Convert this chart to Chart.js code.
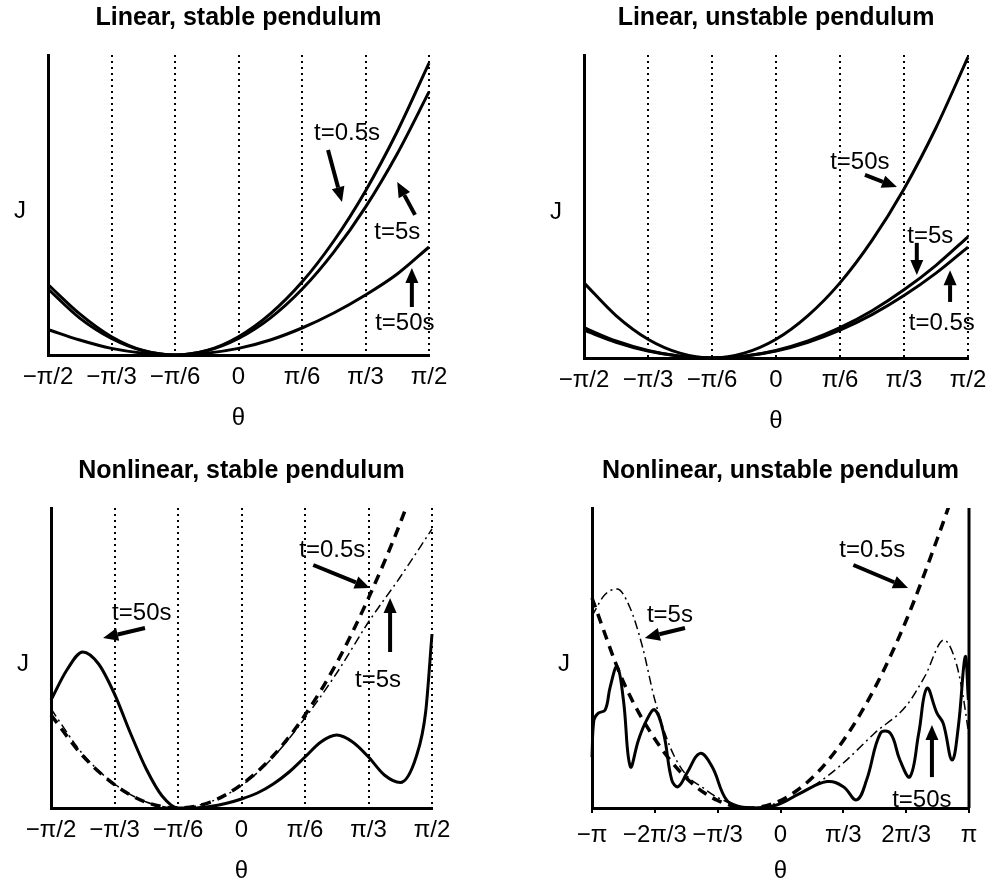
<!DOCTYPE html>
<html><head><meta charset="utf-8">
<script src="https://cdn.jsdelivr.net/npm/chart.js@4/dist/chart.umd.min.js"></script>
<style>
body{margin:0;background:#fff;width:1003px;height:883px;position:relative;overflow:hidden}
.p{position:absolute}
</style></head><body>
<div class="p" style="left:0;top:0;width:470px;height:440px"><canvas id="c1"></canvas></div>
<div class="p" style="left:530px;top:0;width:473px;height:440px"><canvas id="c2"></canvas></div>
<div class="p" style="left:0;top:440px;width:470px;height:443px"><canvas id="c3"></canvas></div>
<div class="p" style="left:530px;top:440px;width:473px;height:443px"><canvas id="c4"></canvas></div>
<script>
// ---- tick labels ----
const ticksHalfPi = ["−π/2","−π/3","−π/6","0","π/6","π/3","π/2"];
const ticksPi = ["−π","−2π/3","−π/3","0","π/3","2π/3","π"];
const titles = ["Linear, stable pendulum","Linear, unstable pendulum","Nonlinear, stable pendulum","Nonlinear, unstable pendulum"];
// ---- x grids (tick units) ----
const xStd = [-3,-2.5,-2,-1.5,-1,-0.5,0,0.5,1,1.5,2,2.5,3];
// Linear stable
const ls_t05 = [0.235,0.137,0.061,0.015,0,0.015,0.061,0.137,0.243,0.380,0.547,0.745,0.973];
const ls_t5  = [0.220,0.123,0.055,0.014,0,0.014,0.055,0.123,0.219,0.343,0.493,0.671,0.877];
const ls_t50 = [0.085,0.050,0.022,0.006,0,0.006,0.022,0.050,0.090,0.140,0.200,0.270,0.360];
// Linear unstable
const lu_t50 = [0.248,0.140,0.062,0.016,0,0.016,0.062,0.140,0.248,0.388,0.558,0.760,0.993];
const lu_t5  = [0.100,0.056,0.025,0.006,0,0.006,0.025,0.056,0.100,0.156,0.225,0.306,0.400];
const lu_t05 = [0.092,0.052,0.023,0.006,0,0.006,0.023,0.052,0.092,0.143,0.206,0.280,0.366];
// Nonlinear stable
const xNs50 = [-3,-2.75,-2.5,-2.25,-2,-1.75,-1.5,-1.25,-1,-0.75,-0.5,-0.25,0,0.25,0.5,0.75,1,1.25,1.5,1.75,2,2.25,2.5,2.75,2.9,3];
const ns_t50 = [0.36,0.46,0.52,0.48,0.38,0.25,0.13,0.04,0.0,0.0,0.005,0.015,0.03,0.05,0.08,0.12,0.17,0.22,0.243,0.22,0.17,0.11,0.085,0.17,0.32,0.58];
const ns_t05 = [0.31,0.174,0.078,0.019,0,0.019,0.078,0.174,0.31,0.484,0.70,0.95,1.24];
const ns_t5  = [0.33,0.18,0.08,0.02,0,0.02,0.075,0.17,0.30,0.45,0.62,0.77,0.93];
// Nonlinear unstable
const nu_t05 = [0.70,0.42,0.23,0.10,0.025,0,0.025,0.10,0.225,0.40,0.625,0.90,1.2];
const xNu5 = [-3,-2.8,-2.6,-2.4,-2.2,-2,-1.75,-1.5,-1.25,-1,-0.5,0,0.5,1,1.5,2,2.3,2.6,2.8,2.9,3];
const nu_t5 = [0.64,0.71,0.73,0.67,0.54,0.36,0.20,0.11,0.07,0.035,0,0.02,0.07,0.15,0.25,0.34,0.44,0.56,0.48,0.38,0.24];
const xNu50 = [-3,-2.97,-2.9,-2.79,-2.71,-2.6,-2.5,-2.39,-2.26,-2.13,-2.0,-1.86,-1.73,-1.63,-1.49,-1.28,-1.09,-0.86,-0.64,-0.43,-0.06,0.31,0.74,1.0,1.21,1.37,1.59,1.75,1.9,2.06,2.2,2.33,2.49,2.59,2.73,2.83,2.94,2.99];
const nu_t50 = [0.17,0.293,0.316,0.327,0.404,0.471,0.36,0.138,0.227,0.293,0.327,0.249,0.093,0.071,0.116,0.182,0.138,0.027,0.004,0,0.01,0.049,0.088,0.071,0.027,0.093,0.249,0.249,0.16,0.104,0.249,0.399,0.316,0.282,0.16,0.271,0.504,0.36];

// annotations in data units: [text, tx, ty, ax0, ay0, ax1, ay1]
const ann1 = [["t=0.5s",1.71,0.74,1.41,0.683,1.63,0.51],["t=5s",2.5,0.41,2.78,0.467,2.5,0.577],["t=50s",2.62,0.107,2.73,0.16,2.73,0.29]];
const ann2 = [["t=50s",1.31,0.647,1.39,0.604,1.89,0.564],["t=5s",2.41,0.40,2.2,0.38,2.2,0.274],["t=0.5s",2.59,0.115,2.72,0.185,2.72,0.29]];
const ann3 = [["t=50s",-1.57,0.65,-1.52,0.60,-2.18,0.567],["t=0.5s",1.43,0.86,1.13,0.81,2.02,0.733],["t=5s",2.15,0.427,2.34,0.52,2.34,0.70]];
const ann4 = [["t=0.5s",1.46,0.86,1.16,0.81,2.03,0.733],["t=5s",-1.76,0.643,-1.52,0.60,-2.16,0.567],["t=50s",2.25,0.027,2.41,0.103,2.41,0.277]];

const FONT = "'Liberation Sans', Arial, sans-serif";
function pts(xs, ys){ return xs.map((x,i)=>({x:x,y:ys[i]})); }
function ds(xs, ys, style, bez){
  const base = {data:pts(xs,ys), borderColor:'#000', pointRadius:0, fill:false, cubicInterpolationMode: bez?'default':'monotone', tension:0.4, clip:{left:2,top:0,right:2,bottom:6}};
  if(style==='solid') return Object.assign(base,{borderWidth:3});
  if(style==='dash') return Object.assign(base,{borderWidth:3.5,borderDash:[10,7]});
  return Object.assign(base,{borderWidth:1.5,borderDash:[9,4,2,4]});
}
const decor = {
  id:'decor',
  afterDatasetsDraw(chart, args, o){
    const c = chart.ctx, a = chart.chartArea, xs = chart.scales.x, ys = chart.scales.y;
    c.save();
    c.fillStyle='#000'; c.strokeStyle='#000';
    c.textAlign='center'; c.textBaseline='middle';
    c.font = "bold 25px "+FONT;
    c.fillText(o.title, (a.left+a.right)/2+o.tdx, a.top-37);
    c.font = "24px "+FONT;
    c.fillText("J", a.left-o.jdx, (a.top+a.bottom)/2+6);
    c.fillText("θ", (a.left+a.right)/2+o.thdx, a.bottom+63);
    c.font = "24px "+FONT;
    o.ann.forEach(n=>{
      c.fillText(n[0], xs.getPixelForValue(n[1]), ys.getPixelForValue(n[2]));
      const x0=xs.getPixelForValue(n[3]), y0=ys.getPixelForValue(n[4]);
      const x1=xs.getPixelForValue(n[5]), y1=ys.getPixelForValue(n[6]);
      const ang=Math.atan2(y1-y0,x1-x0), L=15, W=6.5;
      const bx=x1-L*Math.cos(ang), by=y1-L*Math.sin(ang);
      c.lineWidth=4; c.beginPath(); c.moveTo(x0,y0); c.lineTo(bx,by); c.stroke();
      c.beginPath(); c.moveTo(x1,y1);
      c.lineTo(bx+W*Math.sin(ang), by-W*Math.cos(ang));
      c.lineTo(bx-W*Math.sin(ang), by+W*Math.cos(ang)); c.closePath(); c.fill();
    });
    if(o.rightLine){ c.lineWidth=3; c.beginPath(); c.moveTo(a.right,a.top); c.lineTo(a.right,a.bottom); c.stroke(); }
    c.restore();
  }
};
function make(id, datasets, labels, grid, ann, title, pad, extra){
  new Chart(document.getElementById(id), {
    type:'line',
    data:{datasets:datasets},
    plugins:[decor],
    options:{
      responsive:true, maintainAspectRatio:false, animation:false,
      layout:{padding:{top:pad.top,right:pad.right,left:0,bottom:0}},
      plugins:{legend:{display:false},tooltip:{enabled:false},decor:Object.assign({title:title,ann:ann,tdx:0,jdx:28,thdx:0,rightLine:false},extra)},
      scales:{
        x:{type:'linear',min:-3,max:3,afterFit:s=>{s.height=pad.bottom;},
           ticks:{stepSize:1,autoSkip:false,maxRotation:0,padding:8,color:'#000',font:{family:FONT,size:24},callback:v=>labels[Math.round(v)+3]},
           grid:{display:true,drawOnChartArea:grid,drawTicks:!grid,tickLength:5,color:ctx=>(ctx.index===0?'rgba(0,0,0,0)':'#000'),lineWidth:2,tickColor:'#000'},
           border:{display:true,color:'#000',width:3,dash:[2,4]}},
        y:{min:0,max:1,afterFit:s=>{s.width=pad.left;},ticks:{display:false},grid:{display:false},
           border:{display:true,color:'#000',width:3}}
      }
    }
  });
}
make('c1',[ds(xStd,ls_t05,'solid'),ds(xStd,ls_t5,'solid'),ds(xStd,ls_t50,'solid')],ticksHalfPi,true,ann1,titles[0],{top:55,right:41,bottom:85,left:48},{});
make('c2',[ds(xStd,lu_t50,'solid'),ds(xStd,lu_t5,'solid'),ds(xStd,lu_t05,'solid')],ticksHalfPi,true,ann2,titles[1],{top:55,right:35,bottom:82,left:54},{});
make('c3',[ds(xNs50,ns_t50,'solid'),ds(xStd,ns_t05,'dash'),ds(xStd,ns_t5,'dashdot')],ticksHalfPi,true,ann3,titles[2],{top:68,right:38,bottom:75,left:51},{});
make('c4',[ds(xNu50,nu_t50,'solid',true),ds(xStd,nu_t05,'dash'),ds(xNu5,nu_t5,'dashdot')],ticksPi,false,ann4,titles[3],{top:68,right:34,bottom:75,left:62},{rightLine:true});
</script>
</body></html>
